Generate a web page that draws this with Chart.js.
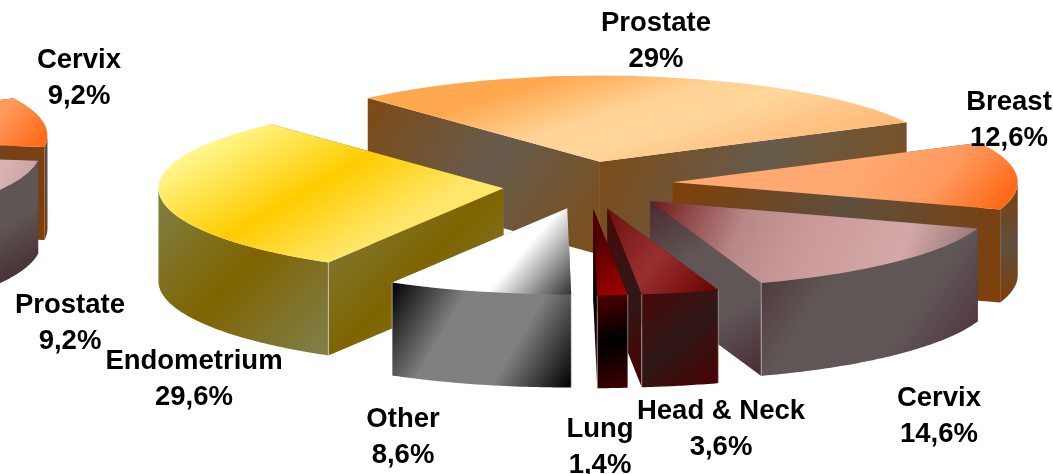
<!DOCTYPE html>
<html><head><meta charset="utf-8">
<script src="https://cdn.jsdelivr.net/npm/chart.js@4/dist/chart.umd.min.js"></script>
<style>
html,body{margin:0;padding:0;background:#fff;width:1053px;height:474px;overflow:hidden}
canvas{position:absolute;display:block}
#side{left:-737px;top:0}
#main{left:0;top:0}
</style></head><body>
<canvas id="side" width="800" height="474"></canvas>
<canvas id="main" width="1053" height="474"></canvas>
<script>
const categories = ['Prostate','Breast','Cervix','Head & Neck','Lung','Other','Endometrium'];
const shares = [29,12.6,14.6,3.6,1.4,8.6,29.6];
const sideCategories = ['Cervix','Prostate','Remainder'];
const sideShares = [9.2,9.2,81.6];

// layout and style tables
const SQUASH = 0.25, DEPTH = 93, RADIUS = 345;
const mainExplode = [90,87,92,96,96,96,84];
const mainShift = [0,0,1,1,1,1,2];
const mainShiftX = [-3,-1,-2,0,1,5,0];
const sideExplode = [40,32,0];
const sideShift = [1,10,0];
const sideShiftX = [0,4,0];
const mainLabelPos = [[656,23.5],[1009,102.5],[939,398.5],[721,411.5],[600,429.5],[403,419.5],[194,361.5]];
const sideLabelPos = [[79,60.5],[70,305.5]];
const mainTops = [
 {a:[-33,-88,12,55], s:[[0,'#FFA850'],[.34,'#FFD396'],[.55,'#FFD699'],[.72,'#FFC98C'],[1,'#FFB872']]},
 {a:[226,-54,326,31], s:[[0,'#FFA872'],[.5,'#FF9A5E'],[1,'#FF6612']]},
 {a:[0,0,290,120], s:[[0,'#701818'],[.3,'#B88888'],[.5,'#CC9999'],[.8,'#D4A8A8'],[1,'#9A7878']]},
 {a:[0,0,110,85], s:[[0,'#6E1010'],[.5,'#993030'],[1,'#6A0000']]},
 {a:[0,30,35,88], s:[[0,'#500000'],[1,'#A80000']]},
 {a:[-67,24,8,89], s:[[0,'#FFFFFF'],[.3,'#FFFFFF'],[1,'#222222']]},
 {a:[-271,-57,-191,83], s:[[0,'#FFF68A'],[.55,'#FFCC00'],[1,'#FFE668']]}
];
const mainWalls = [
 ['#7E4A14','#665B4C','#7E4E18'],['#7F3F08','#5F4F3F','#7F3F08'],['#4A2A30','#605656','#605656','#4A2A34'],
 ['#4A0808','#301818','#4A0000'],['#500000','#000000','#400000'],['#000000','#808080','#808080','#000000'],
 ['#808048','#7F6400','#808050']
];
const sideTops = [
 {a:[260,-60,340,12], s:[[0,'#FFA872'],[.5,'#FF9A5E'],[1,'#FF6612']]},
 {a:[100,0,420,100], s:[[0,'#CC9999'],[.6,'#D9B3B3'],[1,'#9A7878']]},
 null
];
const sideWalls = [['#6A4E3A','#64483A','#7F3F08'],['#5F5555','#5F5555','#3A1C22'],null];

function makePie3d(o){ return {
  id:'pie3d',
  beforeDatasetsDraw(chart){
    const ctx = chart.ctx;
    const arcs = chart.getDatasetMeta(0).data;
    const mids = arcs.map(a => (a.startAngle+a.endAngle)/2);
    const order = arcs.map((a,i)=>i).sort((p,q)=>Math.sin(mids[p])-Math.sin(mids[q]));
    for (const i of order){
      const a = arcs[i];
      if (!o.tops[i]) continue;
      const dx = Math.cos(mids[i])*o.explode[i]+o.shiftX[i], dy = Math.sin(mids[i])*o.explode[i], shift = o.shift[i];
      const P = (lx,ly)=>[a.x+lx+dx, a.y+SQUASH*(ly+dy)+shift];
      const r = a.outerRadius;
      const onRim = t => P(r*Math.cos(t),r*Math.sin(t));
      const front = [];
      const steps = Math.max(2,Math.ceil((a.endAngle-a.startAngle)/0.01));
      for (let s=0;s<=steps;s++){
        const t = a.startAngle+(a.endAngle-a.startAngle)*s/steps;
        if (Math.sin(t)>=0) front.push(onRim(t));
      }
      const first = onRim(a.startAngle), last = onRim(a.endAngle);
      const apex = P(0,0);
      const faces = [[apex,first],[apex,last]];
      if (front.length>1) faces.push(front);
      const meanY = f => f.reduce((u,p)=>u+p[1],0)/f.length;
      faces.sort((f,g)=>meanY(f)-meanY(g));
      for (const f of faces){
        const xs=f.map(p=>p[0]), ys=f.map(p=>p[1]);
        const g = ctx.createLinearGradient(Math.min(...xs),Math.min(...ys),Math.max(...xs),Math.max(...ys)+DEPTH);
        const cols=o.walls[i];
        cols.forEach((c,n)=>g.addColorStop(n/(cols.length-1),c));
        ctx.beginPath();
        f.forEach((p,n)=> n?ctx.lineTo(p[0],p[1]):ctx.moveTo(p[0],p[1]));
        for (let n=f.length-1;n>=0;n--) ctx.lineTo(f[n][0],f[n][1]+DEPTH);
        ctx.closePath();
        ctx.fillStyle=g; ctx.fill();
      }
      // light corner edge, as in the reference
      ctx.strokeStyle='rgba(255,255,255,0.45)'; ctx.lineWidth=1;
      for (const p of [first,last]){
        if (p[1]-apex[1]>40){
          ctx.beginPath(); ctx.moveTo(p[0],p[1]); ctx.lineTo(p[0],p[1]+DEPTH); ctx.stroke();
        }
      }
      // top face: the library's own arc element under a flattening transform
      ctx.save();
      ctx.translate(dx,a.y+shift);
      ctx.scale(1,SQUASH);
      ctx.translate(0,dy-a.y);
      const spec = o.tops[i];
      const [x0,y0,x1,y1] = spec.a;
      const ax=x1-x0, ay=y1-y0, nx=ax/SQUASH, ny=ay, n=Math.hypot(nx,ny);
      const proj=(ax*ax/SQUASH+ay*ay/SQUASH)/n;
      const sx=a.x+x0, sy=a.y+y0/SQUASH;
      const grad=ctx.createLinearGradient(sx,sy,sx+nx/n*proj,sy+ny/n*proj);
      spec.s.forEach(([p,c])=>grad.addColorStop(p,c));
      a.options=Object.assign({},a.options,{backgroundColor:grad,borderWidth:0,offset:0});
      a.draw(ctx);
      ctx.restore();
    }
    return false;
  },
  afterDraw(chart){
    if(!o.labelItems) return;
    const ctx=chart.ctx;
    ctx.save();
    ctx.font='bold 27.5px "Liberation Sans", Arial, sans-serif';
    ctx.textAlign='center';ctx.textBaseline='middle';ctx.fillStyle='#000';
    for(const it of o.labelItems){
      ctx.fillText(it.name,it.x,it.y);
      ctx.fillText(it.value,it.x,it.y+35.5);
    }
    ctx.restore();
  }
};}
const fmt = v => String(v).replace('.',',')+'%';
const mainItems = categories.map((c,i)=>({name:c,value:fmt(shares[i]),x:mainLabelPos[i][0],y:mainLabelPos[i][1]}));
const sideItems = sideLabelPos.map((p,i)=>({name:sideCategories[i],value:fmt(sideShares[i]),x:p[0],y:p[1]}));

function makeChart(id, labels, values, rotation, padding, cfg){
  return new Chart(document.getElementById(id),{
    type:'pie',
    data:{labels,datasets:[{data:values,backgroundColor:'#888',borderWidth:0,clip:false}]},
    plugins:[makePie3d(cfg)],
    options:{
      responsive:false,animation:false,rotation,radius:RADIUS,
      layout:{padding},
      plugins:{legend:{display:false},tooltip:{enabled:false}}
    }
  });
}
makeChart('side',sideCategories,sideShares,64.5,{left:0,right:0,top:0,bottom:202},
  {explode:sideExplode,shift:sideShift,shiftX:sideShiftX,tops:sideTops,walls:sideWalls});
makeChart('main',categories,shares,-42.3,{left:121,right:0,top:0,bottom:106},
  {explode:mainExplode,shift:mainShift,shiftX:mainShiftX,tops:mainTops,walls:mainWalls,labelItems:mainItems.concat(sideItems)});
</script>
</body></html>
